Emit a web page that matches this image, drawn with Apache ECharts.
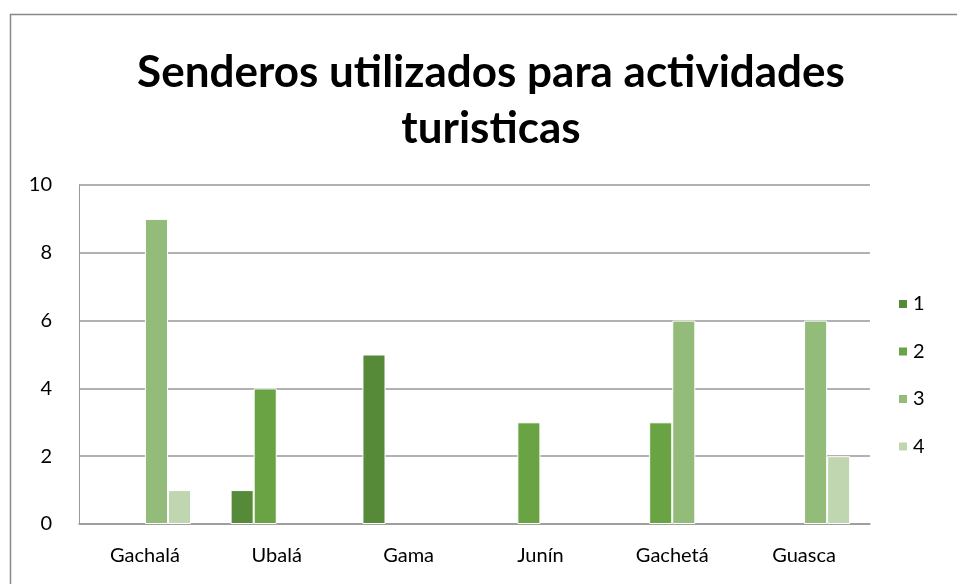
<!DOCTYPE html>
<html><head><meta charset="utf-8">
<script src="https://cdn.jsdelivr.net/npm/echarts@6/dist/echarts.min.js"></script>
<style>html,body{margin:0;padding:0;background:#fff}#c{width:957px;height:584px}</style>
</head><body><div id="c"></div>
<script>
const categories = ['Gachalá','Ubalá','Gama','Junín','Gachetá','Guasca'];
const seriesNames = ['1','2','3','4'];
const s1 = [0,1,5,0,0,0];
const s2 = [0,4,0,3,3,0];
const s3 = [9,0,0,0,6,6];
const s4 = [1,0,0,0,0,2];
const colors = ['#568a38','#6aa343','#93bb7a','#bfd6b1'];
const values = [s1,s2,s3,s4];
const font = 'Lato, "Open Sans", sans-serif';

const chart = echarts.init(document.getElementById('c'));
chart.setOption({
  animation:false,
  backgroundColor:'#fff',
  title:{text:'Senderos utilizados para actividades\nturisticas',left:486,textAlign:'center',top:40,
    textStyle:{fontFamily:font,fontWeight:'bold',fontSize:44,lineHeight:56,color:'#000'}},
  graphic:[{type:'rect',shape:{x:10.5,y:14.5,width:980,height:620},style:{fill:'none',stroke:'#888',lineWidth:1.5},silent:true}],
  legend:{orient:'vertical',left:892,top:289,itemWidth:10,itemHeight:10,itemGap:27.5,icon:'rect',
    textStyle:{fontFamily:font,fontSize:20,color:'#000'},data:seriesNames},
  grid:{left:79,right:87,top:185,bottom:60,containLabel:false},
  xAxis:{type:'category',data:categories,axisTick:{show:false},
    axisLine:{lineStyle:{color:'#999',width:1.5}},
    axisLabel:{fontFamily:font,fontSize:20,color:'#000',margin:22}},
  yAxis:{type:'value',min:0,max:10,interval:2,
    axisLine:{show:true,lineStyle:{color:'#999',width:1}},axisTick:{show:false},
    splitLine:{lineStyle:{color:'#999',width:1.5}},
    axisLabel:{fontFamily:font,fontSize:20,color:'#000',margin:27}},
  series: values.map((v,i)=>({name:seriesNames[i],type:'bar',data:v.map(x=>x===0?null:x),barGap:'0%',barCategoryGap:'30%',
    itemStyle:{color:colors[i],borderColor:'#fff',borderWidth:1}}))
});
</script></body></html>
